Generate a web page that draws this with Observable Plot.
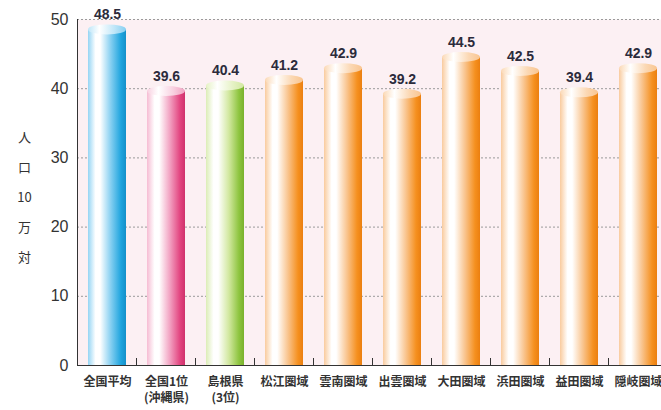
<!DOCTYPE html>
<html><head><meta charset="utf-8">
<script src="https://cdn.jsdelivr.net/npm/d3@7"></script>
<script src="https://cdn.jsdelivr.net/npm/@observablehq/plot@0.6"></script>
<style>body{margin:0;background:#fff;overflow:hidden;}</style>
</head><body><div id="chart"></div>
<script>
const categories = ["全国平均","全国1位\n(沖縄県)","島根県\n(3位)","松江圏域","雲南圏域","出雲圏域","大田圏域","浜田圏域","益田圏域","隠岐圏域"];
const values = [48.5, 39.6, 40.4, 41.2, 42.9, 39.2, 44.5, 42.5, 39.4, 42.9];
const groups = ["blue","pink","green","orange","orange","orange","orange","orange","orange","orange"];
const yTicks = [0, 10, 20, 30, 40, 50];
const gridTicks = [10, 20, 30, 40, 50];
const yLabel = "人\n口\n10\n万\n対";

const palettes = {
  blue:   {edge:"#95d5f4", mid:"#86cff1", main:"#1ea4de", dark:"#1590c9", top:"#bfe6f8"},
  pink:   {edge:"#f6bcd3", mid:"#f2a2c2", main:"#e2447f", dark:"#cf316c", top:"#f8d0e0"},
  green:  {edge:"#dcedb6", mid:"#d2e8a0", main:"#8dc43e", dark:"#79b12d", top:"#e6f2c6"},
  orange: {edge:"#f9cb9e", mid:"#f9c590", main:"#f5901f", dark:"#eb7f10", top:"#fbd8b4"}
};

const data = categories.map((c, i) => ({cat: c, value: values[i], group: groups[i]}));

const plot = Plot.plot({
  width: 661, height: 410,
  marginLeft: 77, marginRight: 0, marginTop: 19, marginBottom: 45,
  style: {fontFamily: "'Liberation Sans', Arial, sans-serif", background: "transparent", overflow: "visible"},
  x: {domain: categories, range: [77, 667], paddingInner: 0.36, paddingOuter: 0.18, label: null},
  y: {domain: [0, 50], label: null},
  marks: [
    Plot.frame({fill: "#fcf0f3", stroke: null}),
    Plot.ruleY(gridTicks, {stroke: "#9a9a9a", strokeDasharray: "2,2", strokeWidth: 1}),
    ...Object.keys(palettes).map(g =>
      Plot.barY(data.filter(d => d.group === g), {x: "cat", y: "value", fill: `url(#bar-${g})`})
    ),
    Plot.ruleY([0], {stroke: "#333"}),
    Plot.frame({anchor: "left", stroke: "#333"}),
    Plot.axisY({ticks: yTicks, tickSize: 0, tickPadding: 9, fontSize: 16, color: "#333", label: null}),
    Plot.axisX({tickSize: 0, tickPadding: 9, fontSize: 12, fontWeight: "bold", lineHeight: 1.35,
      fontFamily: "'Noto Sans CJK JP', sans-serif", color: "#333", label: null}),
    Plot.text(data, {x: "cat", y: "value", text: d => d.value.toFixed(1), dy: -15,
      fontSize: 14, fontWeight: "bold", fill: "#2b2b3b"}),
    Plot.text([yLabel], {text: d => d, frameAnchor: "left", dx: -53, textAnchor: "middle",
      lineHeight: 2.3, fontSize: 13, fontFamily: "'Noto Sans CJK JP', sans-serif", fill: "#333"})
  ]
});
document.getElementById("chart").appendChild(plot);

// gradients and cylinder tops derived from Plot's scales
const svg = d3.select(plot);
const defs = svg.insert("defs", ":first-child");
for (const [g, p] of Object.entries(palettes)) {
  const lg = defs.append("linearGradient").attr("id", `bar-${g}`).attr("x1", 0).attr("x2", 1).attr("y1", 0).attr("y2", 0);
  [[0, p.edge], [0.2, "#ffffff"], [0.32, "#ffffff"], [0.6, p.mid], [0.87, p.main], [1, p.dark]]
    .forEach(([o, c]) => lg.append("stop").attr("offset", o).attr("stop-color", c));
  const tg = defs.append("linearGradient").attr("id", `top-${g}`).attr("x1", 0).attr("x2", 1).attr("y1", 0).attr("y2", 0);
  [[0, p.top], [0.3, "#ffffff"], [0.7, p.top], [1, p.mid]]
    .forEach(([o, c]) => tg.append("stop").attr("offset", o).attr("stop-color", c));
}
const xs = plot.scale("x"), ys = plot.scale("y");
const bw = xs.bandwidth, step = xs.step;
const tops = svg.append("g");
data.forEach(d => {
  tops.append("ellipse")
    .attr("cx", xs.apply(d.cat) + bw / 2)
    .attr("cy", ys.apply(d.value))
    .attr("rx", bw / 2).attr("ry", 5)
    .attr("fill", `url(#top-${d.group})`);
});
const y0 = ys.apply(0);
const ticks = svg.append("g").attr("stroke", "#333");
categories.slice(0, -1).forEach(c => {
  const xb = xs.apply(c) + bw + (step - bw) / 2;
  ticks.append("line").attr("x1", xb).attr("x2", xb).attr("y1", y0 - 7).attr("y2", y0 + 1);
});
</script>
</body></html>
